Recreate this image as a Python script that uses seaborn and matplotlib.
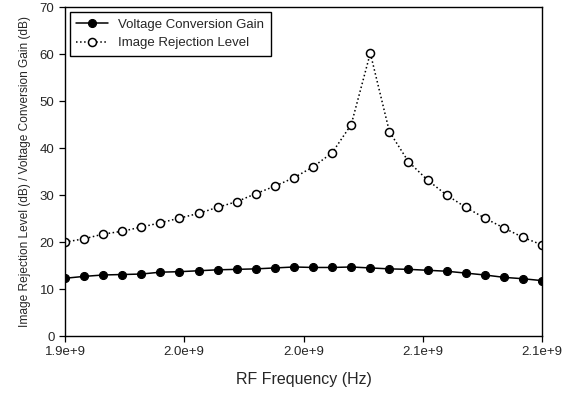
import pandas as pd
import matplotlib
matplotlib.use('Agg')
import matplotlib.pyplot as plt
import seaborn as sns

# RF frequency sweep (Hz)
freq = [1.900e9, 1.908e9, 1.916e9, 1.924e9, 1.932e9, 1.940e9, 1.948e9,
        1.956e9, 1.964e9, 1.972e9, 1.980e9, 1.988e9, 1.996e9, 2.004e9,
        2.012e9, 2.020e9, 2.028e9, 2.036e9, 2.044e9, 2.052e9, 2.060e9,
        2.068e9, 2.076e9, 2.084e9, 2.092e9, 2.100e9]

conv_gain = [12.3, 12.7, 13.0, 13.1, 13.2, 13.6, 13.7, 13.9, 14.1, 14.2,
             14.3, 14.5, 14.7, 14.6, 14.6, 14.7, 14.5, 14.3, 14.2, 14.0,
             13.8, 13.4, 13.0, 12.5, 12.2, 11.8]

image_rej = [20.0, 20.7, 21.7, 22.3, 23.2, 24.1, 25.1, 26.1, 27.4, 28.6,
             30.3, 31.9, 33.7, 36.0, 39.0, 45.0, 60.2, 43.5, 37.1, 33.2,
             30.0, 27.4, 25.1, 23.0, 21.0, 19.4]

x_ticks = [1.90e9, 1.95e9, 2.00e9, 2.05e9, 2.10e9]
x_tick_labels = ['1.9e+9', '2.0e+9', '2.0e+9', '2.1e+9', '2.1e+9']
y_ticks = [0, 10, 20, 30, 40, 50, 60, 70]

df = pd.DataFrame({'freq': freq, 'gain': conv_gain, 'rej': image_rej})

sns.set_style('ticks')
plt.rcParams['font.family'] = ['Liberation Sans', 'DejaVu Sans']

fig = plt.figure(figsize=(5.67, 3.94), dpi=100)
ax = fig.add_axes([0.1146, 0.147, 0.8414, 0.835])

sns.lineplot(data=df, x='freq', y='gain', ax=ax, color='black',
             linewidth=1.1, marker='o', markersize=5.8,
             markerfacecolor='black', markeredgecolor='black',
             label='Voltage Conversion Gain')
sns.lineplot(data=df, x='freq', y='rej', ax=ax, color='black',
             linewidth=1.1, linestyle=':', marker='o', markersize=5.8,
             markerfacecolor='white', markeredgecolor='black',
             markeredgewidth=1.1, label='Image Rejection Level')

ax.set_xlim(1.9e9, 2.1e9)
ax.set_ylim(0, 70)
ax.set_xticks(x_ticks)
ax.set_xticklabels(x_tick_labels)
ax.set_yticks(y_ticks)
ax.tick_params(labelsize=9.5, length=4, width=0.9, color='black')

for s in ax.spines.values():
    s.set_visible(True)
    s.set_color('black')
    s.set_linewidth(1.0)

ax.set_xlabel('RF Frequency (Hz)', fontsize=11.5, labelpad=10)
ax.set_ylabel('Image Rejection Level (dB) / Voltage Conversion Gain (dB)',
              fontsize=8.6, labelpad=6)

leg = ax.legend(loc='upper left', fontsize=9.5, frameon=True, fancybox=False,
                edgecolor='black', framealpha=1, borderaxespad=0.35,
                handlelength=2.4, borderpad=0.5)
leg.get_frame().set_linewidth(1.0)

fig.savefig('out.png', dpi=100)
